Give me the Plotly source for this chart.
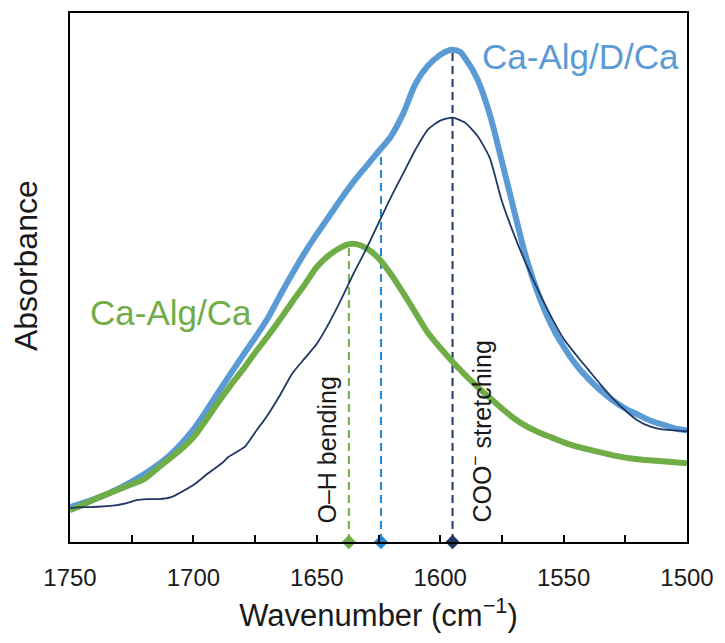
import plotly.graph_objects as go

# ---------------- data ----------------
wn_blue = [1750, 1740, 1730, 1720, 1710, 1700, 1690, 1680, 1675, 1670, 1665, 1660, 1655,
           1650, 1645, 1640, 1635, 1630, 1625, 1620, 1615, 1610, 1605, 1600, 1597, 1595,
           1592, 1590, 1585, 1580, 1575, 1570, 1565, 1560, 1555, 1550, 1545, 1540, 1535,
           1530, 1525, 1520, 1515, 1510, 1505, 1500]
ab_blue = [0.35, 0.43, 0.54, 0.68, 0.86, 1.13, 1.50, 1.87, 2.05, 2.24, 2.47, 2.69, 2.90,
           3.09, 3.27, 3.45, 3.62, 3.77, 3.92, 4.07, 4.30, 4.60, 4.78, 4.89, 4.93, 4.94,
           4.92, 4.86, 4.65, 4.30, 3.82, 3.32, 2.84, 2.47, 2.18, 1.96, 1.78, 1.64, 1.52,
           1.42, 1.34, 1.28, 1.22, 1.18, 1.14, 1.12]

wn_navy = [1750, 1745, 1742, 1735, 1731, 1727, 1723, 1719, 1714, 1709, 1705, 1699, 1694,
           1688, 1686, 1682, 1679, 1675, 1670, 1665, 1660, 1655, 1650, 1645, 1640, 1635,
           1630, 1625, 1620, 1615, 1610, 1605, 1600, 1595, 1590, 1585, 1580, 1575, 1570,
           1565, 1560, 1555, 1550, 1545, 1540, 1535, 1530, 1525, 1520, 1515, 1510, 1505,
           1500]
ab_navy = [0.34, 0.35, 0.35, 0.36, 0.37, 0.39, 0.42, 0.43, 0.43, 0.45, 0.50, 0.59, 0.69,
           0.80, 0.85, 0.91, 0.96, 1.10, 1.27, 1.47, 1.69, 1.84, 1.99, 2.20, 2.44, 2.70,
           2.94, 3.20, 3.46, 3.70, 3.94, 4.14, 4.23, 4.26, 4.21, 4.08, 3.86, 3.42, 3.08,
           2.78, 2.51, 2.26, 2.04, 1.88, 1.73, 1.58, 1.44, 1.32, 1.22, 1.16, 1.13, 1.12,
           1.11]

wn_green = [1750, 1745, 1740, 1735, 1730, 1725, 1720, 1715, 1710, 1705, 1700, 1695, 1690,
            1685, 1680, 1675, 1670, 1665, 1660, 1655, 1650, 1645, 1640, 1637, 1634, 1630,
            1625, 1620, 1615, 1610, 1605, 1600, 1595, 1590, 1585, 1580, 1575, 1570, 1565,
            1560, 1555, 1550, 1545, 1540, 1535, 1530, 1520, 1510, 1500]
ab_green = [0.32, 0.37, 0.43, 0.48, 0.53, 0.58, 0.63, 0.73, 0.83, 0.93, 1.05, 1.22, 1.40,
            1.57, 1.73, 1.90, 2.06, 2.23, 2.41, 2.58, 2.76, 2.88, 2.96, 2.99, 2.99, 2.95,
            2.85, 2.69, 2.50, 2.30, 2.10, 1.95, 1.81, 1.68, 1.56, 1.45, 1.34, 1.24, 1.16,
            1.10, 1.05, 1.00, 0.96, 0.93, 0.90, 0.87, 0.83, 0.81, 0.79]

# peak marker positions (wavenumber) and the height the guide line reaches
peak_wn = [1637, 1624, 1595]
peak_top = [2.98, 3.95, 4.93]
peak_colors = ["#70AD47", "#2488DA", "#1F3864"]

tick_vals = [1750, 1725, 1700, 1675, 1650, 1625, 1600, 1575, 1550, 1525, 1500]
tick_text = ["1750", "", "1700", "", "1650", "", "1600", "", "1550", "", "1500"]

BLUE = "#5B9BD5"
GREEN = "#70AD47"
NAVY = "#1F3864"
FONT = "Liberation Sans, Arial, sans-serif"

fig = go.Figure()

# guide dashed lines
for w, t, c in zip(peak_wn, peak_top, peak_colors):
    fig.add_trace(go.Scatter(x=[w, w], y=[0, t], mode="lines",
                             line=dict(color=c, width=2, dash="8px,5px"),
                             hoverinfo="skip", showlegend=False))

fig.add_trace(go.Scatter(x=wn_blue, y=ab_blue, mode="lines", name="Ca-Alg/D/Ca",
                         line=dict(color=BLUE, width=6, shape="spline", smoothing=0.8),
                         showlegend=False))
fig.add_trace(go.Scatter(x=wn_green, y=ab_green, mode="lines", name="Ca-Alg/Ca",
                         line=dict(color=GREEN, width=6, shape="spline", smoothing=0.8),
                         showlegend=False))
fig.add_trace(go.Scatter(x=wn_navy, y=ab_navy, mode="lines", name="reference",
                         line=dict(color=NAVY, width=1.8, shape="spline", smoothing=0.6),
                         showlegend=False))

# diamond markers on the axis
fig.add_trace(go.Scatter(x=peak_wn, y=[0] * len(peak_wn), mode="markers",
                         marker=dict(symbol="diamond", size=11, color=peak_colors),
                         cliponaxis=False, hoverinfo="skip", showlegend=False))

fig.add_annotation(x=1543.2, y=4.87, xref="x", yref="y", text="Ca-Alg/D/Ca",
                   showarrow=False, font=dict(family=FONT, size=35, color=BLUE))
fig.add_annotation(x=1709.2, y=2.30, xref="x", yref="y", text="Ca-Alg/Ca",
                   showarrow=False, font=dict(family=FONT, size=35, color=GREEN))
fig.add_annotation(x=1645.8, y=0.92, xref="x", yref="y", text="O–H bending",
                   textangle=-90, showarrow=False,
                   font=dict(family=FONT, size=25, color="#1a1a1a"))
fig.add_annotation(x=1583.4, y=1.11, xref="x", yref="y", text="COO<sup>−</sup> stretching",
                   textangle=-90, showarrow=False,
                   font=dict(family=FONT, size=25, color="#1a1a1a"))
fig.add_annotation(x=-0.071, y=0.522, xref="paper", yref="paper", text="Absorbance",
                   xanchor="center", yanchor="middle",
                   textangle=-90, showarrow=False,
                   font=dict(family=FONT, size=32, color="#1a1a1a"))

fig.update_layout(
    width=725, height=643,
    margin=dict(l=70, r=36, t=11, b=101),
    paper_bgcolor="white", plot_bgcolor="white",
    xaxis=dict(range=[1750, 1500], tickmode="array", tickvals=tick_vals, ticktext=tick_text,
               ticks="inside", ticklen=7, tickwidth=2, tickcolor="black",
               showline=True, linecolor="black", linewidth=2, mirror=True,
               showgrid=False, zeroline=False, ticklabelstandoff=13,
               tickfont=dict(family=FONT, size=24, color="#1a1a1a"),
               title=dict(text="Wavenumber (cm<sup>−1</sup>)", standoff=15,
                          font=dict(family=FONT, size=31, color="#1a1a1a"))),
    yaxis=dict(range=[0, 5.31], showticklabels=False, ticks="",
               showline=True, linecolor="black", linewidth=2, mirror=True,
               showgrid=False, zeroline=False),
)

fig.write_html("out.html")
